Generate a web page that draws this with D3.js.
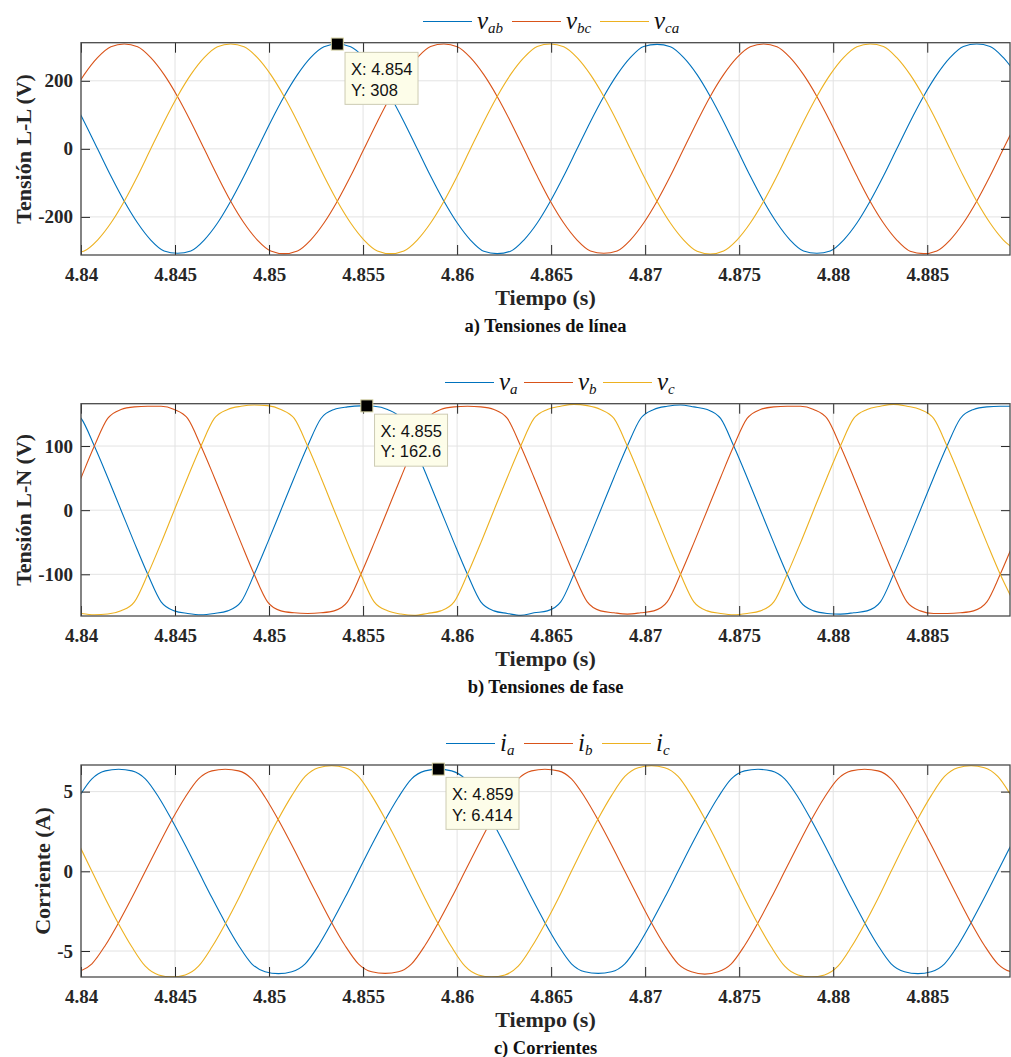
<!DOCTYPE html>
<html>
<head>
<meta charset="utf-8">
<script src="https://cdn.jsdelivr.net/npm/d3@7"></script>
<style>
  body { margin: 0; background: #fff; }
  svg { display: block; }
</style>
</head>
<body>
<svg id="chart" width="1011" height="1057"></svg>
<script>
const xTickVals = [4.84, 4.845, 4.85, 4.855, 4.86, 4.865, 4.87, 4.875, 4.88, 4.885];
const xTickLabels = ["4.84", "4.845", "4.85", "4.855", "4.86", "4.865", "4.87", "4.875", "4.88", "4.885"];

// a) line voltages
const tA = [
  4.83946, 4.84017, 4.84088, 4.84159, 4.84230, 4.84301,
  4.84371, 4.84442, 4.84513, 4.84584, 4.84655, 4.84726,
  4.84796, 4.84867, 4.84938, 4.85009, 4.85080, 4.85151,
  4.85221, 4.85292, 4.85363, 4.85434, 4.85505, 4.85576,
  4.85646, 4.85717, 4.85788, 4.85859, 4.85930, 4.86001,
  4.86071, 4.86142, 4.86213, 4.86284, 4.86355, 4.86426,
  4.86496, 4.86567, 4.86638, 4.86709, 4.86780, 4.86851,
  4.86921, 4.86992, 4.87063, 4.87134, 4.87205, 4.87276,
  4.87346, 4.87417, 4.87488, 4.87559, 4.87630, 4.87701,
  4.87771, 4.87842, 4.87913, 4.87984, 4.88055, 4.88126,
  4.88196, 4.88267, 4.88338, 4.88409, 4.88480, 4.88551,
  4.88621, 4.88692, 4.88763, 4.88834, 4.88905, 4.88976
];
const vab = [
  154, 80, 0, -80, -154, -218,
  -268, -300, -307, -300, -268, -218,
  -154, -80, 0, 80, 154, 218,
  268, 300, 308, 300, 268, 218,
  154, 80, 0, -80, -154, -218,
  -268, -301, -308, -301, -268, -218,
  -154, -80, 0, 80, 154, 218,
  268, 301, 307, 300, 268, 218,
  154, 80, 0, -80, -154, -218,
  -268, -300, -307, -300, -268, -218,
  -154, -80, 0, 80, 154, 218,
  268, 301, 308, 301, 268, 218
];
const vbc = [
  154, 218, 268, 300, 308, 300,
  268, 218, 154, 80, 0, -80,
  -154, -218, -268, -300, -308, -300,
  -268, -218, -154, -80, 0, 80,
  154, 218, 268, 301, 308, 300,
  268, 218, 154, 80, 0, -80,
  -154, -218, -268, -300, -307, -300,
  -268, -218, -154, -80, 0, 80,
  154, 218, 268, 300, 308, 300,
  268, 218, 154, 80, 0, -80,
  -154, -218, -268, -301, -308, -300,
  -268, -218, -154, -80, 0, 80
];
const vca = [
  -308, -300, -268, -218, -154, -80,
  0, 80, 154, 218, 268, 300,
  308, 300, 268, 218, 154, 80,
  0, -80, -154, -218, -268, -300,
  -308, -300, -268, -218, -154, -80,
  0, 80, 154, 218, 268, 301,
  308, 300, 268, 218, 154, 80,
  0, -80, -154, -218, -268, -301,
  -309, -300, -268, -218, -154, -80,
  0, 80, 154, 218, 268, 300,
  308, 301, 268, 218, 154, 80,
  0, -80, -154, -218, -268, -300
];

// b) phase voltages
const tB = [
  4.83930, 4.84001, 4.84071, 4.84142, 4.84213, 4.84284,
  4.84355, 4.84426, 4.84496, 4.84567, 4.84638, 4.84709,
  4.84780, 4.84851, 4.84921, 4.84992, 4.85063, 4.85134,
  4.85205, 4.85276, 4.85346, 4.85417, 4.85488, 4.85559,
  4.85630, 4.85701, 4.85771, 4.85842, 4.85913, 4.85984,
  4.86055, 4.86126, 4.86196, 4.86267, 4.86338, 4.86409,
  4.86480, 4.86551, 4.86621, 4.86692, 4.86763, 4.86834,
  4.86905, 4.86976, 4.87046, 4.87117, 4.87188, 4.87259,
  4.87330, 4.87401, 4.87471, 4.87542, 4.87613, 4.87684,
  4.87755, 4.87826, 4.87896, 4.87967, 4.88038, 4.88109,
  4.88180, 4.88251, 4.88321, 4.88392, 4.88463, 4.88534,
  4.88605, 4.88676, 4.88746, 4.88817, 4.88888, 4.88959
];
const va = [
  157, 143, 100, 51, 0, -51,
  -100, -143, -157, -161, -163, -161,
  -157, -143, -100, -51, 0, 51,
  100, 143, 157, 161, 162.6, 162,
  157, 143, 100, 51, 0, -51,
  -100, -143, -157, -161, -164, -160,
  -157, -143, -100, -51, 0, 51,
  100, 143, 157, 162, 164, 161,
  157, 143, 100, 51, 0, -51,
  -100, -143, -157, -161, -162, -160,
  -157, -143, -100, -51, 0, 51,
  100, 143, 157, 161, 162, 162
];
const vb = [
  0, 51, 100, 143, 157, 161,
  162, 162, 157, 143, 100, 51,
  0, -51, -100, -143, -157, -160,
  -161, -160, -157, -143, -100, -51,
  0, 51, 100, 143, 157, 161,
  162, 161, 157, 143, 100, 51,
  0, -51, -100, -143, -157, -160,
  -162, -160, -157, -143, -100, -51,
  0, 51, 100, 143, 157, 161,
  162, 162, 157, 143, 100, 51,
  0, -51, -100, -143, -157, -161,
  -161, -160, -157, -143, -100, -51
];
const vc = [
  -157, -161, -163, -162, -157, -143,
  -100, -51, 0, 51, 100, 143,
  157, 162, 164, 163, 157, 143,
  100, 51, 0, -51, -100, -143,
  -157, -162, -164, -161, -157, -143,
  -100, -51, 0, 51, 100, 143,
  157, 162, 165, 163, 157, 143,
  100, 51, 0, -51, -100, -143,
  -157, -161, -163, -161, -157, -143,
  -100, -51, 0, 51, 100, 143,
  157, 162, 165, 162, 157, 143,
  100, 51, 0, -51, -100, -143
];

// c) currents
const tC = [
  4.83988, 4.84058, 4.84129, 4.84200, 4.84271, 4.84342,
  4.84413, 4.84483, 4.84554, 4.84625, 4.84696, 4.84767,
  4.84838, 4.84908, 4.84979, 4.85050, 4.85121, 4.85192,
  4.85263, 4.85333, 4.85404, 4.85475, 4.85546, 4.85617,
  4.85688, 4.85758, 4.85829, 4.85900, 4.85971, 4.86042,
  4.86113, 4.86183, 4.86254, 4.86325, 4.86396, 4.86467,
  4.86538, 4.86608, 4.86679, 4.86750, 4.86821, 4.86892,
  4.86963, 4.87033, 4.87104, 4.87175, 4.87246, 4.87317,
  4.87388, 4.87458, 4.87529, 4.87600, 4.87671, 4.87742,
  4.87813, 4.87883, 4.87954, 4.88025, 4.88096, 4.88167,
  4.88238, 4.88308, 4.88379, 4.88450, 4.88521, 4.88592,
  4.88663, 4.88733, 4.88804, 4.88875, 4.88946, 4.89017
];
const ia = [
  4.65, 5.80, 6.30, 6.40, 6.30, 5.80,
  4.65, 3.22, 1.65, 0, -1.65, -3.22,
  -4.65, -5.80, -6.30, -6.42, -6.30, -5.80,
  -4.65, -3.22, -1.65, 0, 1.65, 3.22,
  4.65, 5.80, 6.30, 6.414, 6.30, 5.80,
  4.65, 3.22, 1.65, 0, -1.65, -3.22,
  -4.65, -5.80, -6.30, -6.40, -6.30, -5.80,
  -4.65, -3.22, -1.65, 0, 1.65, 3.22,
  4.65, 5.80, 6.30, 6.40, 6.30, 5.80,
  4.65, 3.22, 1.65, 0, -1.65, -3.22,
  -4.65, -5.80, -6.30, -6.42, -6.30, -5.80,
  -4.65, -3.22, -1.65, 0, 1.65, 3.22
];
const ib = [
  -6.30, -5.80, -4.65, -3.22, -1.65, 0,
  1.65, 3.22, 4.65, 5.80, 6.30, 6.40,
  6.30, 5.80, 4.65, 3.22, 1.65, 0,
  -1.65, -3.22, -4.65, -5.80, -6.30, -6.40,
  -6.30, -5.80, -4.65, -3.22, -1.65, 0,
  1.65, 3.22, 4.65, 5.80, 6.30, 6.40,
  6.30, 5.80, 4.65, 3.22, 1.65, 0,
  -1.65, -3.22, -4.65, -5.80, -6.30, -6.45,
  -6.30, -5.80, -4.65, -3.22, -1.65, 0,
  1.65, 3.22, 4.65, 5.80, 6.30, 6.40,
  6.30, 5.80, 4.65, 3.22, 1.65, 0,
  -1.65, -3.22, -4.65, -5.80, -6.30, -6.40
];
const ic = [
  1.70, 0, -1.70, -3.30, -4.75, -5.95,
  -6.50, -6.62, -6.50, -5.95, -4.75, -3.30,
  -1.70, 0, 1.70, 3.30, 4.75, 5.95,
  6.50, 6.62, 6.50, 5.95, 4.75, 3.30,
  1.70, 0, -1.70, -3.30, -4.75, -5.95,
  -6.50, -6.62, -6.50, -5.95, -4.75, -3.30,
  -1.70, 0, 1.70, 3.30, 4.75, 5.95,
  6.50, 6.62, 6.50, 5.95, 4.75, 3.30,
  1.70, 0, -1.70, -3.30, -4.75, -5.95,
  -6.50, -6.62, -6.50, -5.95, -4.75, -3.30,
  -1.70, 0, 1.70, 3.30, 4.75, 5.95,
  6.50, 6.62, 6.50, 5.95, 4.75, 3.30
];

const yTicksA = [-200, 0, 200];
const yTicksB = [-100, 0, 100];
const yTicksC = [-5, 0, 5];

// data tips (x, y)
const tipA = [4.85363, 308];
const tipB = [4.8552, 162.6];
const tipC = [4.859, 6.414];

// ---- drawing ----
const colours = ["#0072BD", "#D95319", "#EDB120"];
const serif = "'Liberation Serif', 'Times New Roman', serif";
const svg = d3.select("#chart");

const x = d3.scaleLinear().domain([4.84, 4.8894]).range([81, 1010]);

const panels = [
  { top: 42.7, bottom: 255, dom: [-312, 312], ticks: yTicksA, t: tA, series: [vab, vbc, vca],
    names: [["v", "ab"], ["v", "bc"], ["v", "ca"]], legendX: [423, 512, 600],
    ylabel: "Tensión L-L (V)", caption: "a) Tensiones de línea", tip: tipA },
  { top: 403.7, bottom: 616, dom: [-165, 166], ticks: yTicksB, t: tB, series: [va, vb, vc],
    names: [["v", "a"], ["v", "b"], ["v", "c"]], legendX: [445, 524, 603],
    ylabel: "Tensión L-N (V)", caption: "b) Tensiones de fase", tip: tipB },
  { top: 765, bottom: 977, dom: [-6.63, 6.67], ticks: yTicksC, t: tC, series: [ia, ib, ic],
    names: [["i", "a"], ["i", "b"], ["i", "c"]], legendX: [446, 524, 602],
    ylabel: "Corriente (A)", caption: "c) Corrientes", tip: tipC }
];

const styleTicks = (g) => {
  g.selectAll("text")
    .attr("font-family", serif)
    .attr("font-weight", "bold")
    .attr("font-size", 19)
    .attr("fill", "#262626");
  g.selectAll("line").attr("stroke", "#262626").attr("stroke-width", 1);
  g.select(".domain").remove();
};

const drawPanel = (p, i) => {
  const y = d3.scaleLinear().domain(p.dom).range([p.bottom, p.top]);
  const g = svg.append("g");
  const [x0, x1] = x.range();

  g.append("clipPath").attr("id", `clip${i}`)
    .append("rect").attr("x", x0).attr("y", p.top).attr("width", x1 - x0).attr("height", p.bottom - p.top);

  // grid
  g.append("g").selectAll("line").data(xTickVals).join("line")
    .attr("x1", (d) => x(d)).attr("x2", (d) => x(d))
    .attr("y1", p.top).attr("y2", p.bottom)
    .attr("stroke", "#e3e3e3").attr("stroke-width", 1);
  g.append("g").selectAll("line").data(p.ticks).join("line")
    .attr("x1", x0).attr("x2", x1)
    .attr("y1", (d) => y(d)).attr("y2", (d) => y(d))
    .attr("stroke", "#e3e3e3").attr("stroke-width", 1);

  // traces
  const line = d3.line()
    .x((d, k) => x(p.t[k]))
    .y((d) => y(d))
    .curve(d3.curveMonotoneX);
  g.append("g").attr("clip-path", `url(#clip${i})`)
    .selectAll("path").data(p.series).join("path")
    .attr("d", line)
    .attr("fill", "none")
    .attr("stroke", (d, k) => colours[k])
    .attr("stroke-width", 1.1);

  // axes
  g.append("g").attr("transform", `translate(0,${p.bottom})`)
    .call(d3.axisBottom(x).tickValues(xTickVals).tickFormat((d, k) => xTickLabels[k])
      .tickSizeInner(-10).tickSizeOuter(0).tickPadding(12.5))
    .call(styleTicks);
  g.append("g").attr("transform", `translate(0,${p.top})`)
    .call(d3.axisTop(x).tickValues(xTickVals).tickFormat("").tickSizeInner(-10).tickSizeOuter(0))
    .call(styleTicks);
  const gy = g.append("g").attr("transform", `translate(${x0},0)`)
    .call(d3.axisLeft(y).tickValues(p.ticks).tickFormat((d) => d).tickSizeInner(-9).tickSizeOuter(0).tickPadding(8))
    .call(styleTicks);
  g.append("g").attr("transform", `translate(${x1},0)`)
    .call(d3.axisRight(y).tickValues(p.ticks).tickFormat("").tickSizeInner(-9).tickSizeOuter(0))
    .call(styleTicks);

  g.append("rect")
    .attr("x", x0).attr("y", p.top).attr("width", x1 - x0).attr("height", p.bottom - p.top)
    .attr("fill", "none").attr("stroke", "#4a4a4a").attr("stroke-width", 1.3);

  // labels
  const bb = gy.node().getBBox();
  const cy = (p.top + p.bottom) / 2;
  g.append("text")
    .attr("transform", `translate(${x0 + bb.x - 7},${cy}) rotate(-90)`)
    .attr("text-anchor", "middle")
    .attr("font-family", serif).attr("font-weight", "bold").attr("font-size", 22)
    .attr("fill", "#262626")
    .text(p.ylabel);

  const cx = (x0 + x1) / 2;
  g.append("text")
    .attr("x", cx).attr("y", p.bottom + 50)
    .attr("text-anchor", "middle")
    .attr("font-family", serif).attr("font-weight", "bold").attr("font-size", 22)
    .attr("fill", "#262626")
    .text("Tiempo (s)");
  g.append("text")
    .attr("x", cx).attr("y", p.bottom + 77)
    .attr("text-anchor", "middle")
    .attr("font-family", serif).attr("font-weight", "bold").attr("font-size", 18.5)
    .attr("fill", "#111")
    .text(p.caption);

  // legend
  const ly = Math.round(p.top - 22) + 0.5;
  p.names.forEach((nm, k) => {
    const lx = p.legendX[k];
    g.append("line")
      .attr("x1", lx).attr("x2", lx + 49).attr("y1", ly).attr("y2", ly)
      .attr("stroke", colours[k]).attr("stroke-width", 1);
    const t = g.append("text")
      .attr("x", lx + 54).attr("y", ly + 7.5)
      .attr("font-family", serif).attr("font-style", "italic")
      .attr("fill", "#111");
    t.append("tspan").attr("font-size", 25).text(nm[0]);
    t.append("tspan").attr("font-size", 15).attr("dy", 3.5).text(nm[1]);
  });

  // data tip
  const mx = x(p.tip[0]), my = y(p.tip[1]);
  g.append("rect")
    .attr("x", mx - 6).attr("y", my - 6).attr("width", 12).attr("height", 12)
    .attr("fill", "#000").attr("stroke", "#d6d2a2").attr("stroke-width", 1);
  const bx = mx + 7.7, by = my + 8.3;
  g.append("rect")
    .attr("x", bx).attr("y", by).attr("width", 73).attr("height", 52)
    .attr("fill", "#fdfde9").attr("stroke", "#cdcbb3").attr("stroke-width", 1);
  const tipLines = [`X: ${d3.format(".3f")(p.tip[0])}`, `Y: ${p.tip[1]}`];
  g.append("g").selectAll("text").data(tipLines).join("text")
    .attr("x", bx + 6).attr("y", (d, k) => by + 22.5 + k * 20.7)
    .attr("font-family", "'Liberation Sans', Arial, sans-serif")
    .attr("font-size", 16.5)
    .attr("fill", "#111")
    .text((d) => d);
};

panels.forEach(drawPanel);
</script>
</body>
</html>
